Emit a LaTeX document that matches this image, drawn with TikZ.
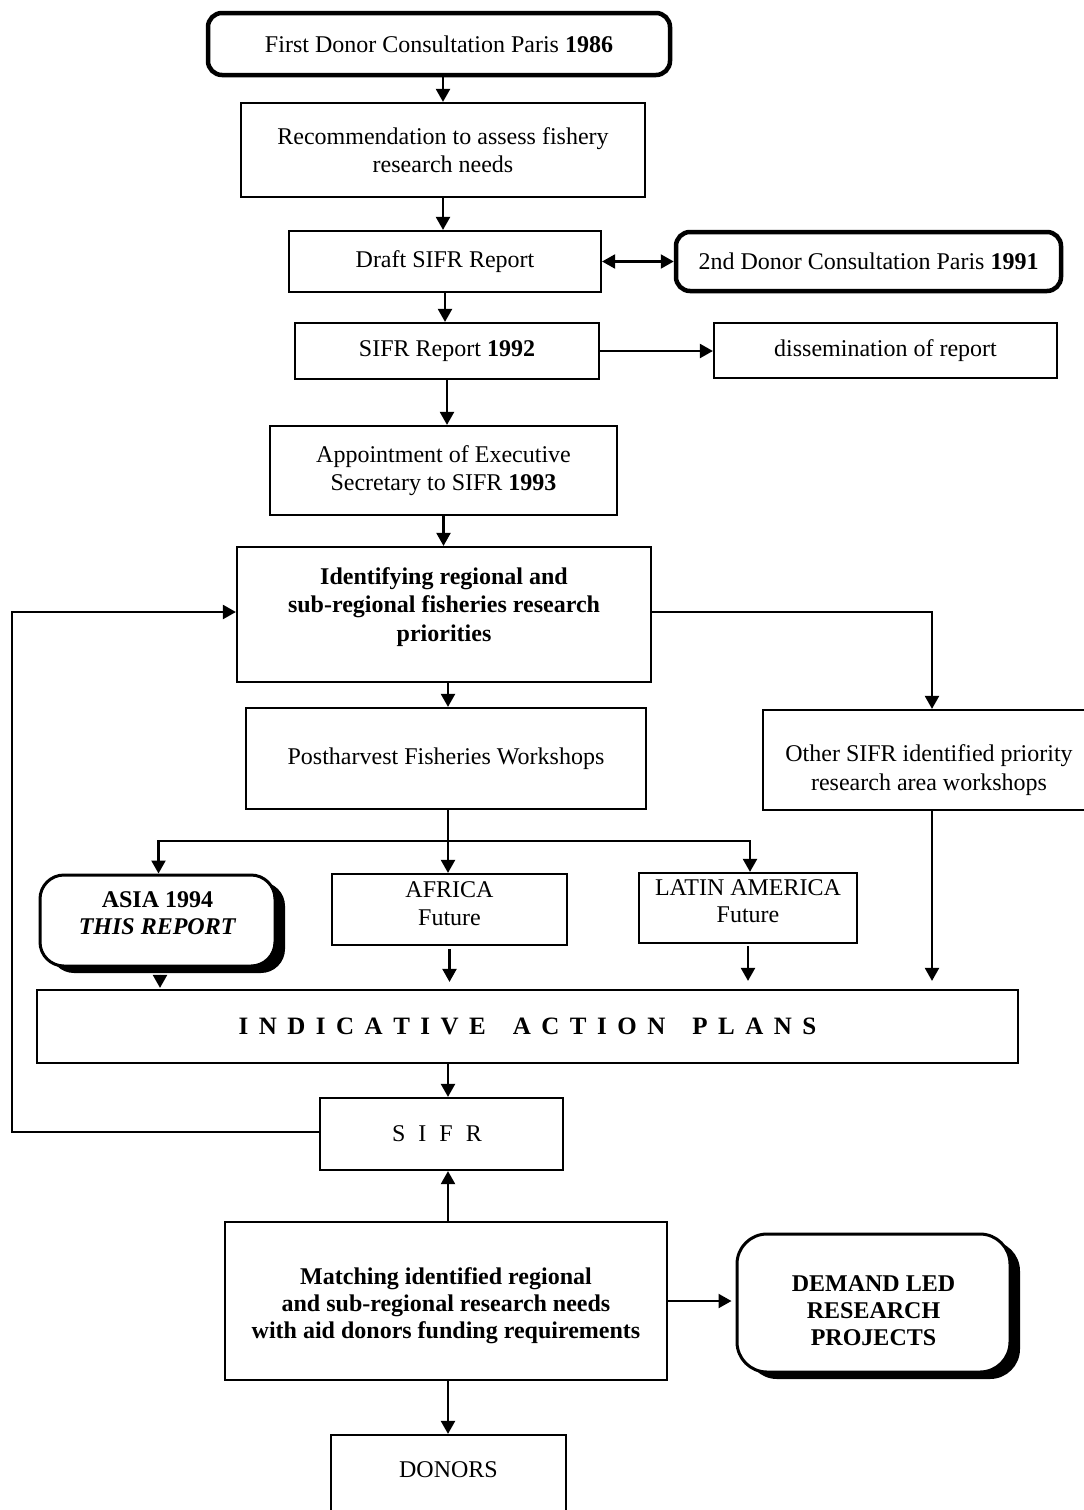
\documentclass[tikz,border=0pt]{standalone}
\usepackage{fontspec}
\setmainfont{Liberation Serif}
\usetikzlibrary{arrows.meta,shadows}
\newcommand\lsp{\hspace{10.5pt}}
\newcommand\wsp{\hspace{27pt}}
\newcommand\ssp{\hspace{13pt}}
\tikzset{
  txt/.style={font=\fontsize{24}{28.5}\selectfont, align=center, inner sep=0pt},
  box/.style={draw, line width=2.2pt, fill=white, inner sep=0pt, align=center, font=\fontsize{24}{28.5}\selectfont},
  rbox/.style={box, rounded corners=14pt, line width=4.5pt},
  sbox/.style={box, rounded corners=24pt, line width=3pt, drop shadow={shadow xshift=10pt, shadow yshift=-7pt, fill=black, opacity=1}},
  arr/.style={line width=2.2pt, -{Triangle[width=14pt,length=13pt]}},
  arrr/.style={line width=2.2pt, {Triangle[width=14pt,length=13pt]}-{Triangle[width=14pt,length=13pt]}},
  ln/.style={line width=2.2pt}
}
\begin{document}
\begin{tikzpicture}[x=1pt,y=-1pt]
\path[use as bounding box, fill=white] (0,0) rectangle (1084,1510);

\coordinate (spine) at (448,0);
\coordinate (fbx) at (12,0);

\node[rbox, minimum width=462, minimum height=62] (n1) at (439,44) {First Donor Consultation Paris \textbf{1986}};
\node[box, minimum width=404, minimum height=94] (n2) at (443,150) {Recommendation to assess fishery\\research needs};
\node[box, minimum width=312, minimum height=61] (n3) at (445,261.5) {Draft SIFR Report};
\node[rbox, minimum width=385, minimum height=59] (n4) at (868.5,261.5) {2nd Donor Consultation Paris \textbf{1991}};
\node[box, minimum width=304, minimum height=56] (n5) at (447,351) {SIFR Report \textbf{1992}};
\node[box, minimum width=343, minimum height=55] (n6) at (885.5,350.5) {dissemination of report};
\node[box, minimum width=347, minimum height=89] (n7) at (443.5,470.5) {Appointment of Executive\\Secretary to SIFR \textbf{1993}};

\node[box, minimum width=414, minimum height=135] (n8) at (444,614.5) {};
\node[txt, font=\fontsize{24}{28.5}\selectfont\bfseries] (n8t) at (444,607) {Identifying regional and\\sub-regional fisheries research\\priorities};

\node[box, minimum width=400, minimum height=101] (n9) at (446,758.5) {Postharvest Fisheries Workshops};
\node[box, minimum width=338, minimum height=100] (n9b) at (932,760) {};
\node[txt] (n9bt) at (929,770) {Other SIFR identified priority\\research area workshops};

\node[sbox, minimum width=235, minimum height=91] (asia) at (157.5,920.5) {};
\node[txt, font=\fontsize{24}{26.5}\selectfont\bfseries] (asiat) at (157.5,913) {ASIA 1994\\\textit{THIS REPORT}};
\node[box, minimum width=235, minimum height=71] (africa) at (449.5,909.5) {};
\node[txt, font=\fontsize{24}{28}\selectfont] (africat) at (449.5,904) {AFRICA\\Future};
\node[box, minimum width=218, minimum height=70] (latin) at (748,908) {};
\node[txt, font=\fontsize{24}{27}\selectfont] (latint) at (748,901.5) {LATIN AMERICA\\Future};

\node[box, minimum width=981, minimum height=73, font=\fontsize{25}{28.5}\selectfont\bfseries] (iap) at (527.5,1026.5)
  {I\lsp N\lsp D\lsp I\lsp C\lsp A\lsp T\lsp I\lsp V\lsp E\wsp A\lsp C\lsp T\lsp I\lsp O\lsp N\wsp P\lsp L\lsp A\lsp N\lsp S};

\node[box, minimum width=243, minimum height=72] (sifr) at (441.5,1134) {};
\node[txt] (sifrt) at (437,1134) {S\ssp I\ssp F\ssp R};

\node[box, minimum width=442, minimum height=158] (match) at (446,1301) {};
\node[txt, font=\fontsize{24}{27}\selectfont\bfseries] (matcht) at (446,1306) {Matching identified regional\\and sub-regional research needs\\with aid donors funding requirements};

\node[sbox, rounded corners=30pt, minimum width=273, minimum height=138] (demand) at (873.5,1303) {};
\node[txt, font=\fontsize{24}{27}\selectfont\bfseries] (demandt) at (873.5,1311) {DEMAND LED\\RESEARCH\\PROJECTS};

\node[box, minimum width=235, minimum height=110] (donors) at (448.5,1490) {};
\node[txt] (donorst) at (448.5,1470) {DONORS};

% connectors
\draw[arr] (n1.south -| n2.north) -- (n2.north);
\draw[arr] (n2.south) -- (n2.south |- n3.north);
\draw[arrr] (n3.east) -- (n4.west);
\draw[arr] (n3.south) -- (n3.south |- n5.north);
\draw[arr] (n5.east) -- (n5.east -| n6.west);
\draw[arr] (n5.south) -- (n5.south |- n7.north);
\draw[arr] (n7.south) -- (n7.south |- n8.north);
\draw[arr] (n8.south -| spine) -- (n9.north -| spine);
\draw[arr] ([yshift=2.5pt]n8.east) -| (n9b.north);

\coordinate (br) at (448,841);
\draw[ln] (n9.south -| br) -- (br);
\draw[arr] (br) -| ([xshift=1pt]asia.north);
\draw[arr] (br) -- (br |- africa.north);
\draw[arr] (br) -| ([xshift=2pt]latin.north);

\draw[arr, shorten >=1pt] ([xshift=2.5pt,yshift=-7pt]asia.south) -- ([xshift=2.5pt]asia.south |- iap.north);
\draw[arr, shorten <=3pt, shorten >=7pt] (africa.south) -- (africa.south |- iap.north);
\draw[arr, shorten <=2pt, shorten >=8pt] (latin.south) -- (latin.south |- iap.north);
\draw[arr, shorten >=8pt] (n9b.south) -- (n9b.south |- iap.north);

\draw[arr] (iap.south -| spine) -- (sifr.north -| spine);
\draw[arr] (match.north -| spine) -- (sifr.south -| spine);
\draw[arr, shorten >=4pt] (match.east) -- (match.east -| demand.west);
\draw[arr] (match.south -| spine) -- (donors.north -| spine);

\draw[arr] ([yshift=2pt]sifr.west) -- ([yshift=2pt]sifr.west -| fbx) -- ([yshift=2.5pt]n8.west -| fbx) -- ([yshift=2.5pt]n8.west);
\end{tikzpicture}
\end{document}
